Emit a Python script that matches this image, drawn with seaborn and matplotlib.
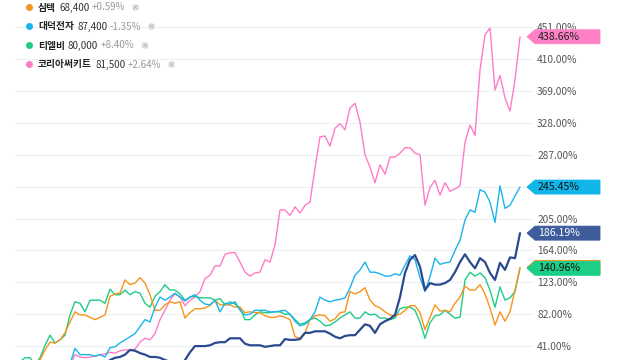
import numpy as np
import pandas as pd
import seaborn as sns
import matplotlib
matplotlib.use("Agg")
import matplotlib.pyplot as plt
from matplotlib.patches import Polygon, Ellipse
from matplotlib.transforms import blended_transform_factory

sns.set_style("white")
plt.rcParams['font.family'] = ['Noto Sans CJK KR', 'DejaVu Sans']

# ---------------- data (cumulative return, %) ----------------
days = np.arange(101)

orange = [0, 8, 13, 17, 23, 36, 46, 45, 49, 58,
          72, 85, 81, 81, 78, 75, 78, 81, 105, 108,
          109, 126, 120, 122, 129, 122, 107, 87, 87, 94,
          98, 96, 98, 77, 84, 89, 89, 90, 93, 100,
          94, 94, 94, 91, 91, 84, 85, 84, 84, 80,
          78, 78, 80, 78, 75, 53, 51, 58, 75, 80,
          81, 80, 73, 76, 84, 85, 111, 108, 111, 116,
          100, 93, 90, 85, 81, 80, 82, 87, 93, 93,
          84, 62, 78, 94, 86, 87, 85, 96, 104, 118,
          113, 113, 120, 108, 90, 68, 85, 73, 85, 113,
          142.2]

green = [21, 26, 26, 17, 26, 42, 55, 45, 49, 55,
         81, 98, 96, 85, 100, 100, 100, 96, 114, 107,
         107, 113, 107, 111, 109, 96, 91, 105, 111, 120,
         113, 113, 108, 100, 104, 105, 103, 103, 103, 100,
         102, 94, 98, 95, 90, 75, 75, 81, 85, 84,
         84, 85, 85, 82, 82, 75, 69, 71, 75, 77,
         73, 67, 68, 72, 77, 81, 85, 77, 77, 85,
         81, 82, 77, 77, 75, 77, 89, 91, 91, 87,
         72, 51, 71, 80, 81, 87, 82, 77, 78, 126,
         136, 131, 135, 129, 113, 91, 117, 100, 103, 111,
         140.96]

blue = [0, 5, 8, 6, 10, 12, 9, 14, 16, 14,
        18, 38, 30, 30, 30, 28, 30, 27, 39, 40,
        45, 49, 53, 57, 66, 75, 72, 91, 104, 100,
        104, 109, 104, 99, 104, 107, 100, 95, 94, 100,
        85, 96, 95, 98, 87, 81, 82, 87, 87, 87,
        85, 85, 86, 87, 82, 73, 67, 69, 75, 85,
        104, 100, 98, 100, 101, 103, 116, 132, 139, 149,
        136, 136, 134, 131, 131, 134, 132, 145, 157, 152,
        129, 111, 130, 154, 146, 148, 149, 164, 177, 203,
        216, 213, 242, 239, 226, 200, 247, 218, 222, 234,
        245.45]

pink = [0, 4, 6, 5, 8, 10, 7, 11, 13, 12,
        16, 30, 27, 26, 27, 28, 30, 31, 33, 32,
        35, 36, 36, 37, 46, 51, 49, 57, 75, 87,
        100, 108, 104, 93, 100, 104, 111, 128, 132, 144,
        144, 159, 161, 161, 149, 136, 131, 135, 136, 152,
        149, 171, 216, 216, 209, 220, 212, 222, 226, 270,
        310, 311, 298, 321, 327, 319, 347, 353, 329, 287,
        271, 251, 274, 262, 284, 284, 289, 296, 296, 289,
        287, 222, 245, 254, 235, 251, 240, 243, 247, 303,
        325, 312, 396, 441, 450, 370, 389, 360, 343, 383,
        438.66]

navy = [0, 2, 4, 3, 6, 5, 8, 7, 9, 10,
        8, 11, 12, 10, 13, 15, 14, 17, 23, 26,
        27, 30, 36, 35, 32, 30, 27, 27, 26, 23,
        21, 17, 17, 23, 33, 41, 41, 41, 42, 45,
        46, 46, 51, 51, 51, 44, 42, 42, 42, 40,
        41, 42, 42, 50, 49, 49, 50, 58, 58, 60,
        60, 60, 57, 53, 51, 54, 55, 55, 62, 69,
        67, 58, 69, 73, 76, 81, 104, 135, 152, 158,
        143, 113, 122, 120, 120, 122, 126, 136, 149, 159,
        149, 141, 154, 149, 135, 126, 148, 139, 155, 154,
        186.19]

yticks = [41, 82, 123, 164, 205, 246, 287, 328, 369, 410, 451]
hidden_ticks = [246]  # covered by an end-value tag in the original

legend_names = ['심텍', '대덕전자', '티엘비', '코리아써키트']
legend_prices = ['68,400', '87,400', '80,000', '81,500']
legend_changes = ['+0.59%', '-1.35%', '+8.40%', '+2.64%']

# ---------------- figure ----------------
W, H = 640, 360
fig = plt.figure(figsize=(6.4, 3.6), dpi=100)
ax = fig.add_axes([15 / W, 0, 518 / W, 1])

c_orange = '#f7941d'
c_blue = '#19b5e9'
c_green = '#1fcb87'
c_pink = '#ff7cc8'
c_navy = '#2b4a8e'

series = [
    ('코리아써키트', pink, c_pink, 1.0),
    ('티엘비', green, c_green, 1.0),
    ('심텍', orange, c_orange, 1.0),
    ('대덕전자', blue, c_blue, 1.0),
    ('비교', navy, c_navy, 1.6),
]
for name, vals, col, lw in series:
    df = pd.DataFrame({'day': days, 'value': vals})
    sns.lineplot(data=df, x='day', y='value', color=col, linewidth=lw, ax=ax)

ax.set_yticks(yticks)
ax.set_yticklabels(['' if t in hidden_ticks else f"{t:.2f}%" for t in yticks])
ax.yaxis.tick_right()
ax.tick_params(axis='y', length=0, pad=3, labelsize=7.3, labelcolor='#555555')
ax.set_xticks([])
ax.set_xlabel('')
ax.set_ylabel('')
ax.grid(axis='y', color='#eef1f4', linewidth=0.8)
ax.grid(axis='x', visible=False)
for s in ax.spines.values():
    s.set_visible(False)

# ---------------- end-value tags ----------------
trans = blended_transform_factory(fig.transFigure, ax.transData)
half = 7 * (462.8 / 360)
tags = [
    (orange[-1], c_orange, None),
    (green[-1], '#1dcf86', '#111111'),
    (navy[-1], '#3e5c9c', 'white'),
    (blue[-1], '#10b6e8', '#111111'),
    (pink[-1], '#ff80c6', '#222222'),
]
for k, (v, fc, tc) in enumerate(tags):
    pts = [(527 / W, v), (535 / W, v + half), (600 / W, v + half),
           (600 / W, v - half), (535 / W, v - half)]
    poly = Polygon(pts, closed=True, facecolor=fc, edgecolor=fc, lw=0.6,
                   transform=trans, clip_on=False, zorder=5 + 2 * k)
    ax.add_artist(poly)
    if tc is not None:
        ax.text(538 / W, v, f"{v:.2f}%", transform=trans, ha='left', va='center',
                fontsize=7.6, color=tc, zorder=6 + 2 * k, clip_on=False)

ax.set_xlim(-1, 102.6)
ax.set_ylim(23.1, 485.9)

# ---------------- legend ----------------
renderer = fig.canvas.get_renderer()
leg_colors = [c_orange, c_blue, c_green, c_pink]
rows_y = [7.5, 26.5, 45.5, 64.5]
for name, price, chg, col, yy in zip(legend_names, legend_prices, legend_changes, leg_colors, rows_y):
    fy = 1 - yy / H
    fig.add_artist(Ellipse((29.5 / W, fy), 7 / W, 7 / H, facecolor=col, edgecolor='none'))
    x = 38
    pieces = [(name, 'bold', '#222222', 3), (price, 'normal', '#333333', 2),
              (chg, 'normal', '#9a9a9a', 8)]
    for txt, wt, tc, gap in pieces:
        t = fig.text(x / W, fy, txt, ha='left', va='center', fontsize=7,
                     fontweight=wt, color=tc)
        bb = t.get_window_extent(renderer)
        x = bb.x1 + gap
    cx = x + 3
    fig.add_artist(Ellipse((cx / W, fy), 7 / W, 7 / H, facecolor='#e3e3e3', edgecolor='none'))
    fig.text(cx / W, fy, '×', ha='center', va='center', fontsize=5, color='#a0a0a0')

fig.savefig('out.png', dpi=100)
